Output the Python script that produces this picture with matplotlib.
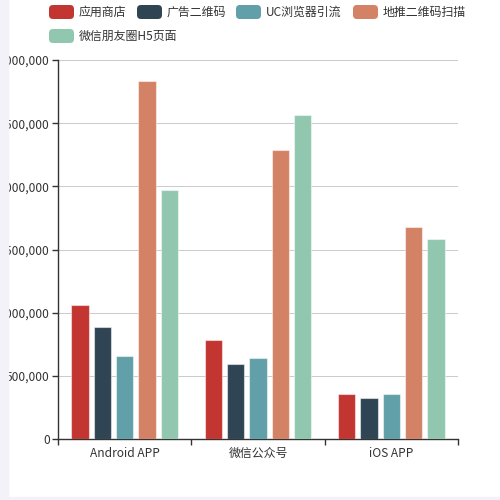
import numpy as np
import matplotlib
matplotlib.use('Agg')
import matplotlib.pyplot as plt
from matplotlib.patches import FancyBboxPatch, Rectangle
from matplotlib.ticker import FuncFormatter, FixedLocator

plt.rcParams['font.family'] = ['Noto Sans CJK SC', 'DejaVu Sans']

# data (one value per category: Android APP, 微信公众号, iOS APP)
categories = ['Android APP', '微信公众号', 'iOS APP']
series_names = ['应用商店', '广告二维码', 'UC浏览器引流', '地推二维码扫描', '微信朋友圈H5页面']
app_store = [1060000, 783000, 356000]
ad_qrcode = [889000, 596000, 327000]
uc_browser = [659000, 641000, 356000]
ground_qrcode = [2831000, 2288000, 1680000]
wechat_h5 = [1969000, 2565000, 1581000]
series_values = [app_store, ad_qrcode, uc_browser, ground_qrcode, wechat_h5]
colors = ['#c23531', '#2f4554', '#61a0a8', '#d48265', '#91c7ae']
y_ticks = [0, 500000, 1000000, 1500000, 2000000, 2500000, 3000000]

W = H = 500.0
fig = plt.figure(figsize=(5, 5), dpi=100)
fig.patch.set_facecolor('white')

def fx(px):
    return px / W

def fy(py):
    return 1 - py / H

ax = fig.add_axes([fx(58), fy(439), fx(458) - fx(58), fy(60) - fy(439)])

x = np.arange(len(categories))
bar_w = 0.13
step = 0.1675
for i, vals in enumerate(series_values):
    ax.bar(x + (i - 2) * step, vals, width=bar_w, color=colors[i],
           edgecolor=(1, 1, 1, 0.5), linewidth=0.8, zorder=3)

ax.set_xlim(-0.5, 2.5)
ax.set_ylim(0, 3000000)
ax.set_yticks(y_ticks)
ax.yaxis.set_major_formatter(FuncFormatter(lambda v, p: '{:,}'.format(int(v))))
ax.grid(axis='y', color='#cccccc', linewidth=0.75, zorder=0)
ax.set_axisbelow(True)

ax.set_xticks(x)
ax.set_xticklabels(categories)
ax.xaxis.set_minor_locator(FixedLocator([-0.5, 0.5, 1.5, 2.5]))
ax.tick_params(axis='x', which='major', length=0, pad=6, labelsize=8.6, labelcolor='#333333')
ax.tick_params(axis='x', which='minor', length=4, width=1, color='#333333', direction='out')
ax.tick_params(axis='y', length=4, width=1, color='#333333', pad=2, labelsize=8.6, labelcolor='#333333')

for s in ['top', 'right']:
    ax.spines[s].set_visible(False)
for s in ['left', 'bottom']:
    ax.spines[s].set_color('#333333')
    ax.spines[s].set_linewidth(1)

# legend, drawn by hand
legend_items = [(49, 12, 0), (137, 12, 1), (236, 12, 2), (353, 12, 3), (49, 36, 4)]
for lx, ly, k in legend_items:
    fig.add_artist(FancyBboxPatch((fx(lx), fy(ly + 7)), fx(25), 14 / H,
                                  boxstyle='round,pad=0,rounding_size=0.008',
                                  transform=fig.transFigure, color=colors[k], linewidth=0))
    fig.text(fx(lx + 30), fy(ly), series_names[k], fontsize=8.6, color='#333333',
             va='center', ha='left')

# page background strip on the left
fig.add_artist(Rectangle((0, 0), fx(8), 1, transform=fig.transFigure,
                         color='#f2f2f8', zorder=10))
fig.add_artist(Rectangle((0, 0), 1, 3 / H, transform=fig.transFigure,
                         color='#f2f2f8', zorder=10))

fig.savefig('out.png', dpi=100)
